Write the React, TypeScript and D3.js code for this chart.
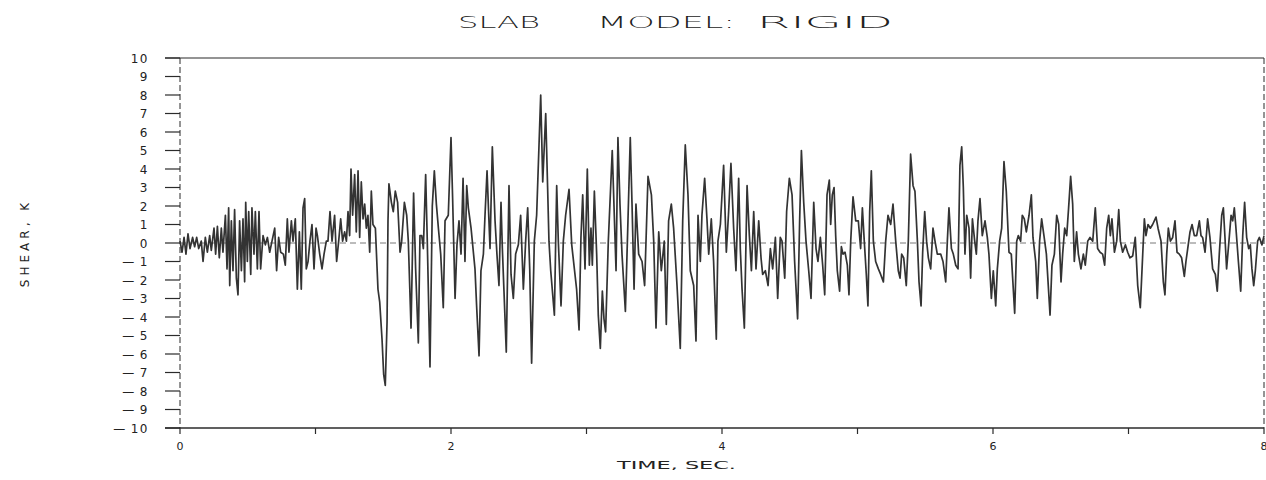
import { useRef, useEffect } from "react";
import * as d3 from "d3";

// [time (sec), shear (K)], split into chunks along time
const shear0to16: [number, number][] = [
    [0.000, 0.1], [0.015, -0.5], [0.030, 0.3], [0.044, -0.6], [0.059, 0.5], [0.074, -0.3],
    [0.093, 0.3], [0.108, -0.2], [0.123, 0.3], [0.138, -0.3], [0.157, 0.1], [0.170, -1.0],
    [0.187, 0.3], [0.202, -0.5], [0.219, 0.4], [0.231, -0.4], [0.251, 0.8], [0.263, -0.6],
    [0.276, 0.9], [0.290, -0.8], [0.305, 0.8], [0.317, -0.5], [0.335, 1.5], [0.347, -1.4],
    [0.359, 1.9], [0.367, -2.3], [0.379, 1.2], [0.391, -1.5], [0.403, 1.8], [0.416, -1.9],
    [0.428, -2.8], [0.440, 1.2], [0.453, -1.5], [0.465, 1.3], [0.477, -2.1], [0.485, 2.2],
    [0.497, -1.0], [0.507, 1.7], [0.522, -1.7], [0.531, 1.9], [0.546, -0.6], [0.556, 1.7],
    [0.571, -1.4], [0.583, 1.7], [0.595, -1.4], [0.613, 0.4], [0.630, -0.1], [0.645, 0.3],
    [0.662, -0.5], [0.679, 0.1], [0.699, 0.8], [0.713, -1.5], [0.728, 0.3], [0.743, -0.5],
    [0.763, -0.6], [0.777, -1.2], [0.792, 1.3], [0.804, -0.5], [0.822, 1.2], [0.834, 0.1],
    [0.851, 1.3], [0.866, -2.5], [0.881, 0.6], [0.895, -2.5], [0.908, 1.9], [0.920, 2.4],
    [0.932, -1.4], [0.945, -1.0], [0.959, 0.1], [0.974, 1.0], [0.989, -1.4], [1.004, 0.8],
    [1.014, 0.4], [1.031, -0.6], [1.048, -1.4], [1.063, -0.6], [1.080, 0.1], [1.092, 0.1],
    [1.107, 1.7], [1.122, 0.1], [1.141, 1.5], [1.156, -1.0], [1.171, 0.1], [1.186, 1.3],
    [1.200, 0.1], [1.215, 0.6], [1.228, 0.1], [1.240, 1.7], [1.252, 0.4], [1.262, 4.0],
    [1.274, 1.5], [1.289, 3.7], [1.301, 0.6], [1.314, 3.9], [1.326, 0.3], [1.338, 3.3],
    [1.351, 1.3], [1.363, 2.1], [1.375, 0.8], [1.387, 1.5], [1.400, -0.5], [1.412, 2.8],
    [1.424, 1.0], [1.442, 0.8], [1.461, -2.5], [1.474, -3.2], [1.491, -5.2], [1.503, -7.1],
    [1.515, -7.7], [1.528, -4.3], [1.535, 1.2], [1.542, 3.2], [1.560, 2.2], [1.574, 1.7],
    [1.589, 2.8],
];

const shear16to32: [number, number][] = [
    [1.606, 2.2], [1.624, -0.5], [1.636, 0.1], [1.656, 2.2], [1.673, 1.5], [1.685, 0.1],
    [1.705, -4.6], [1.724, 2.7], [1.739, -1.4], [1.759, -5.4], [1.771, 0.4], [1.784, 0.4],
    [1.796, -0.3], [1.813, 3.7], [1.825, 0.1], [1.845, -6.7], [1.862, 2.0], [1.877, 3.9],
    [1.892, 2.1], [1.907, 0.8], [1.924, -0.6], [1.943, -3.5], [1.956, 1.2], [1.980, 1.5],
    [2.000, 5.7], [2.012, 2.4], [2.030, -3.0], [2.044, -0.1], [2.059, 1.2], [2.074, -0.6],
    [2.089, 3.5], [2.103, -1.0], [2.116, 3.1], [2.128, 1.9], [2.148, 0.8], [2.177, -1.4],
    [2.189, -3.4], [2.207, -6.1], [2.221, -1.5], [2.239, -0.6], [2.251, 1.5], [2.266, 3.9],
    [2.280, 1.2], [2.288, -0.3], [2.305, 5.2], [2.325, 1.2], [2.339, -0.6], [2.354, -2.3],
    [2.369, 2.2], [2.379, -0.3], [2.391, -2.6], [2.408, -5.9], [2.428, 3.1], [2.443, -1.7],
    [2.460, -3.0], [2.477, -0.6], [2.497, -0.1], [2.514, 1.5], [2.534, -2.5], [2.551, 0.1],
    [2.566, 1.9], [2.581, -1.4], [2.595, -6.5], [2.615, 0.1], [2.632, 1.5], [2.662, 8.0],
    [2.677, 3.3], [2.699, 7.0], [2.713, 3.0], [2.723, 0.1], [2.736, -1.5], [2.763, -3.9],
    [2.780, 3.1], [2.792, 0.1], [2.812, -3.4], [2.829, 0.1], [2.846, 1.5], [2.871, 2.9],
    [2.891, -0.1], [2.927, -2.5], [2.945, -4.7], [2.959, 0.3], [2.972, 2.6], [2.989, -1.4],
    [3.006, 4.0], [3.021, -1.2], [3.033, 0.8], [3.043, -1.2], [3.058, 2.8], [3.075, -0.6],
    [3.087, -3.9], [3.102, -5.7], [3.117, -2.6], [3.129, -4.1], [3.141, -4.8], [3.161, 0.1],
    [3.190, 5.0],
];

const shear32to48: [number, number][] = [
    [3.218, -1.5], [3.232, 5.7], [3.247, 2.1], [3.262, -0.6], [3.287, -3.7], [3.306, 1.2],
    [3.323, 5.7], [3.336, 2.1], [3.351, -2.5], [3.365, 2.1], [3.385, -0.6], [3.410, -1.0],
    [3.429, -2.3], [3.454, 3.6], [3.479, 2.6], [3.496, 0.1], [3.513, -4.6], [3.533, 0.6],
    [3.552, -1.5], [3.574, 0.1], [3.589, -4.4], [3.606, 1.2], [3.626, 2.1], [3.643, 0.8],
    [3.668, -2.3], [3.692, -5.7], [3.710, 1.2], [3.729, 5.3], [3.749, 2.6], [3.766, -1.5],
    [3.791, -2.3], [3.808, -5.3], [3.823, 1.5], [3.840, -1.0], [3.852, 1.5], [3.872, 3.5],
    [3.889, 1.3], [3.902, -0.6], [3.921, 1.3], [3.938, -1.0], [3.958, -5.2], [3.970, 0.1],
    [3.988, 1.0], [4.012, 4.2], [4.032, -0.5], [4.049, 1.7], [4.066, 4.3], [4.086, 0.8],
    [4.103, -1.5], [4.123, 3.5], [4.135, -0.3], [4.148, -2.5], [4.165, -4.6], [4.185, 3.1],
    [4.202, 0.4], [4.217, -1.5], [4.234, 1.7], [4.251, -1.4], [4.271, 1.2], [4.288, -0.8],
    [4.300, -1.7], [4.320, -1.5], [4.340, -2.3], [4.357, -0.3], [4.374, -1.4], [4.394, 0.3],
    [4.411, -3.0], [4.430, 0.3], [4.443, 0.1], [4.463, -1.9], [4.477, 1.7], [4.497, 3.5],
    [4.517, 2.6], [4.536, -1.0], [4.558, -4.1], [4.573, 1.2], [4.586, 5.0], [4.603, 2.2],
    [4.620, 0.1], [4.640, -1.5], [4.657, -3.0], [4.677, 2.2], [4.694, -0.3], [4.708, -1.0],
    [4.726, 0.3], [4.743, -1.2], [4.758, -2.8], [4.775, 2.6], [4.792, 3.4],
];

const shear48to64: [number, number][] = [
    [4.802, 1.0], [4.814, 2.6], [4.827, 3.0], [4.839, 0.4], [4.851, -1.5], [4.868, -2.6],
    [4.881, -0.2], [4.893, -0.6], [4.908, -0.5], [4.925, -1.2], [4.937, -2.8], [4.950, 0.1],
    [4.967, 2.5], [4.987, 1.2], [5.006, 1.2], [5.023, -0.3], [5.036, 1.9], [5.050, 0.1],
    [5.065, -1.7], [5.077, -3.4], [5.090, 1.7], [5.102, 3.9], [5.117, 0.1], [5.134, -1.0],
    [5.154, -1.4], [5.171, -1.7], [5.191, -2.1], [5.208, 0.1], [5.225, 1.5], [5.245, 1.0],
    [5.262, 2.1], [5.282, 0.1], [5.301, -1.5], [5.314, -1.9], [5.326, -0.6], [5.341, -0.8],
    [5.360, -2.3], [5.375, 0.1], [5.392, 4.8], [5.410, 3.1], [5.424, 2.8], [5.442, 0.1],
    [5.454, -2.1], [5.469, -3.4], [5.481, -0.5], [5.496, 1.7], [5.510, 0.1], [5.523, -0.8],
    [5.540, -1.4], [5.557, 0.8], [5.572, 0.1], [5.589, -0.6], [5.614, -0.6], [5.631, -1.0],
    [5.651, -2.1], [5.663, 0.1], [5.675, 1.9], [5.693, -0.3], [5.707, -0.6], [5.725, -1.2],
    [5.742, -1.4], [5.756, 4.2], [5.769, 5.2], [5.781, 3.0], [5.793, -0.6], [5.806, 1.5],
    [5.823, 0.8], [5.835, -1.9], [5.848, 1.3], [5.865, 0.1], [5.877, -0.6], [5.889, 1.2],
    [5.904, 2.4], [5.921, 0.4], [5.941, 1.2], [5.958, 0.3], [5.970, -0.6], [5.988, -3.0],
    [6.002, -1.5], [6.020, -3.4], [6.032, -1.4], [6.049, 0.1], [6.064, 0.8], [6.081, 4.4],
    [6.098, 2.8], [6.118, -0.5], [6.135, -0.6], [6.160, -3.8], [6.175, 0.1], [6.187, 0.4],
    [6.204, 0.1], [6.216, 1.5], [6.231, 1.3], [6.246, 0.6], [6.266, 1.5], [6.283, 2.6],
    [6.295, 0.3], [6.315, -1.0], [6.327, -3.0], [6.344, 0.1], [6.359, 1.3], [6.376, 0.4],
    [6.394, -0.6],
];

const shear64to80: [number, number][] = [
    [6.421, -3.9], [6.435, -1.2], [6.453, -0.6], [6.470, 1.5], [6.485, 1.0], [6.502, -2.1],
    [6.514, -0.6], [6.529, 0.8], [6.544, 0.4], [6.558, 1.9], [6.573, 3.6], [6.588, 2.1],
    [6.600, -1.0], [6.617, 0.6], [6.630, -0.6], [6.649, -1.4], [6.667, -0.6], [6.681, -1.2],
    [6.699, 0.1], [6.716, 0.3], [6.736, 0.1], [6.755, 1.9], [6.772, -0.3], [6.790, -0.5],
    [6.809, -0.6], [6.824, -1.2], [6.839, 0.8], [6.854, 1.5], [6.866, 0.4], [6.878, 1.3],
    [6.896, -0.5], [6.913, 0.1], [6.928, 1.8], [6.940, 0.1], [6.957, -0.5], [6.977, -0.1],
    [6.994, -0.5], [7.011, -0.8], [7.031, -0.7], [7.050, 0.3], [7.068, -2.3], [7.087, -3.5],
    [7.105, -0.6], [7.117, 1.3], [7.129, 0.4], [7.144, 1.0], [7.161, 0.8], [7.178, 1.0],
    [7.203, 1.4], [7.218, 0.8], [7.240, 0.1], [7.257, -2.1], [7.269, -2.8], [7.282, -0.6],
    [7.294, 0.8], [7.309, 0.1], [7.326, 0.3], [7.343, 1.2], [7.358, -0.5], [7.375, -0.6],
    [7.392, -0.8], [7.412, -1.8], [7.424, -1.0], [7.437, -0.3], [7.454, 0.6], [7.469, 1.0],
    [7.486, 0.4], [7.503, 0.4], [7.523, 1.2], [7.535, 0.4], [7.547, 0.3], [7.565, -0.5],
    [7.584, 1.3], [7.601, 0.3], [7.621, -1.4], [7.641, -1.7], [7.655, -2.6], [7.670, -0.6],
    [7.688, 1.5], [7.700, 1.9], [7.712, 0.3], [7.724, -1.4], [7.739, -0.1], [7.757, 1.5],
    [7.769, 1.2], [7.781, 1.9], [7.793, 0.8], [7.811, -1.0], [7.828, -2.6], [7.843, 0.4],
    [7.857, 2.2], [7.872, 0.3], [7.887, -0.3], [7.899, -0.1], [7.911, -1.4], [7.924, -2.3],
    [7.936, -1.5], [7.953, 0.1], [7.966, 0.3], [7.985, -0.1], [8.000, 0.4],
];

const yTicks = d3.range(-10, 11);
const xTicks = [0, 1, 2, 3, 4, 5, 6, 7, 8];
const xTickLabels = ["0", "", "2", "", "4", "", "6", "", "8"];

const width = 1266;
const height = 480;
const font = "'DejaVu Sans', sans-serif";
const ink = "#2b2b2b";

export default function App() {
    const svgRef = useRef<SVGSVGElement | null>(null);

    useEffect(() => {
        if (!svgRef.current) return;
        const svg = d3.select(svgRef.current);
        svg.selectAll("*").remove();

        const margin = { top: 58, right: 2, bottom: 52, left: 180 };
        const data = [...shear0to16, ...shear16to32, ...shear32to48, ...shear48to64, ...shear64to80];

        const x = d3.scaleLinear().domain([0, 8]).range([margin.left, width - margin.right]);
        const y = d3.scaleLinear().domain([-10, 10]).range([height - margin.bottom, margin.top]);

        // title, stretched wide like the plotter lettering
        const titleParts = [
            { text: "SLAB", x0: 458, len: 82 },
            { text: "MODEL:", x0: 597, len: 138 },
            { text: "RIGID", x0: 757, len: 136 },
        ];
        svg.append("g")
            .selectAll("text")
            .data(titleParts)
            .enter()
            .append("text")
            .attr("x", d => d.x0)
            .attr("y", 28)
            .attr("textLength", d => d.len)
            .attr("lengthAdjust", "spacingAndGlyphs")
            .attr("font-family", font)
            .attr("font-size", 15)
            .attr("font-weight", 300)
            .attr("fill", "#222")
            .text(d => d.text);

        // frame: top solid, left/right dashed
        svg.append("line")
            .attr("x1", x(0) - 15).attr("x2", x(8))
            .attr("y1", y(10)).attr("y2", y(10))
            .attr("stroke", ink).attr("stroke-width", 1.2);
        svg.append("line")
            .attr("x1", x(0)).attr("x2", x(0))
            .attr("y1", y(10)).attr("y2", y(-10))
            .attr("stroke", ink).attr("stroke-width", 1)
            .attr("stroke-dasharray", "6,3");
        svg.append("line")
            .attr("x1", x(8)).attr("x2", x(8))
            .attr("y1", y(10)).attr("y2", y(-10))
            .attr("stroke", ink).attr("stroke-width", 1)
            .attr("stroke-dasharray", "6,3");

        // zero reference line
        svg.append("line")
            .attr("x1", x(0)).attr("x2", x(8))
            .attr("y1", y(0)).attr("y2", y(0))
            .attr("stroke", "#555").attr("stroke-width", 0.8)
            .attr("stroke-dasharray", "6,4");

        // y axis ticks + labels
        const yAxis = svg.append("g");
        yAxis.selectAll("line")
            .data(yTicks)
            .enter()
            .append("line")
            .attr("x1", x(0) - 15).attr("x2", x(0))
            .attr("y1", d => y(d)).attr("y2", d => y(d))
            .attr("stroke", ink).attr("stroke-width", 1.2);

        const yLabels = yAxis.selectAll("text")
            .data(yTicks)
            .enter()
            .append("text")
            .attr("x", 149)
            .attr("y", d => y(d) + 4.5)
            .attr("text-anchor", "end")
            .attr("font-family", font)
            .attr("font-size", 12)
            .attr("letter-spacing", 1.5)
            .attr("fill", "#222");
        yLabels.filter(d => d < 0)
            .append("tspan")
            .text("—");
        yLabels.append("tspan")
            .attr("dx", d => (d < 0 ? 4 : 0))
            .text(d => String(Math.abs(d)));

        // x axis
        svg.append("line")
            .attr("x1", x(0) - 15).attr("x2", x(8))
            .attr("y1", y(-10)).attr("y2", y(-10))
            .attr("stroke", ink).attr("stroke-width", 1.4);
        const xAxis = svg.append("g");
        xAxis.selectAll("line")
            .data(xTicks)
            .enter()
            .append("line")
            .attr("x1", d => x(d)).attr("x2", d => x(d))
            .attr("y1", y(-10)).attr("y2", y(-10) + 6)
            .attr("stroke", ink).attr("stroke-width", 1.2);
        xAxis.selectAll("text")
            .data(xTicks)
            .enter()
            .append("text")
            .attr("x", d => x(d))
            .attr("y", y(-10) + 22)
            .attr("text-anchor", "middle")
            .attr("font-family", font)
            .attr("font-size", 11)
            .attr("fill", "#222")
            .text((_, i) => xTickLabels[i]);

        svg.append("text")
            .attr("x", 617)
            .attr("y", 469)
            .attr("textLength", 119)
            .attr("lengthAdjust", "spacingAndGlyphs")
            .attr("font-family", font)
            .attr("font-size", 10)
            .attr("fill", "#222")
            .text("TIME, SEC.");

        svg.append("text")
            .attr("transform", `translate(29,${y(0)}) rotate(-90)`)
            .attr("text-anchor", "middle")
            .attr("font-family", font)
            .attr("font-size", 12)
            .attr("letter-spacing", 4)
            .attr("fill", "#222")
            .text("SHEAR, K");

        // the trace
        const line = d3.line<[number, number]>()
            .x(d => x(d[0]))
            .y(d => y(d[1]));
        svg.append("path")
            .datum(data)
            .attr("d", line)
            .attr("fill", "none")
            .attr("stroke", "#333")
            .attr("stroke-width", 1.7)
            .attr("stroke-linejoin", "round");
    }, []);

    return (
        <svg
            ref={svgRef}
            width={width}
            height={height}
            style={{ position: "absolute", left: 0, top: 0, background: "#fff" }}
        />
    );
}
